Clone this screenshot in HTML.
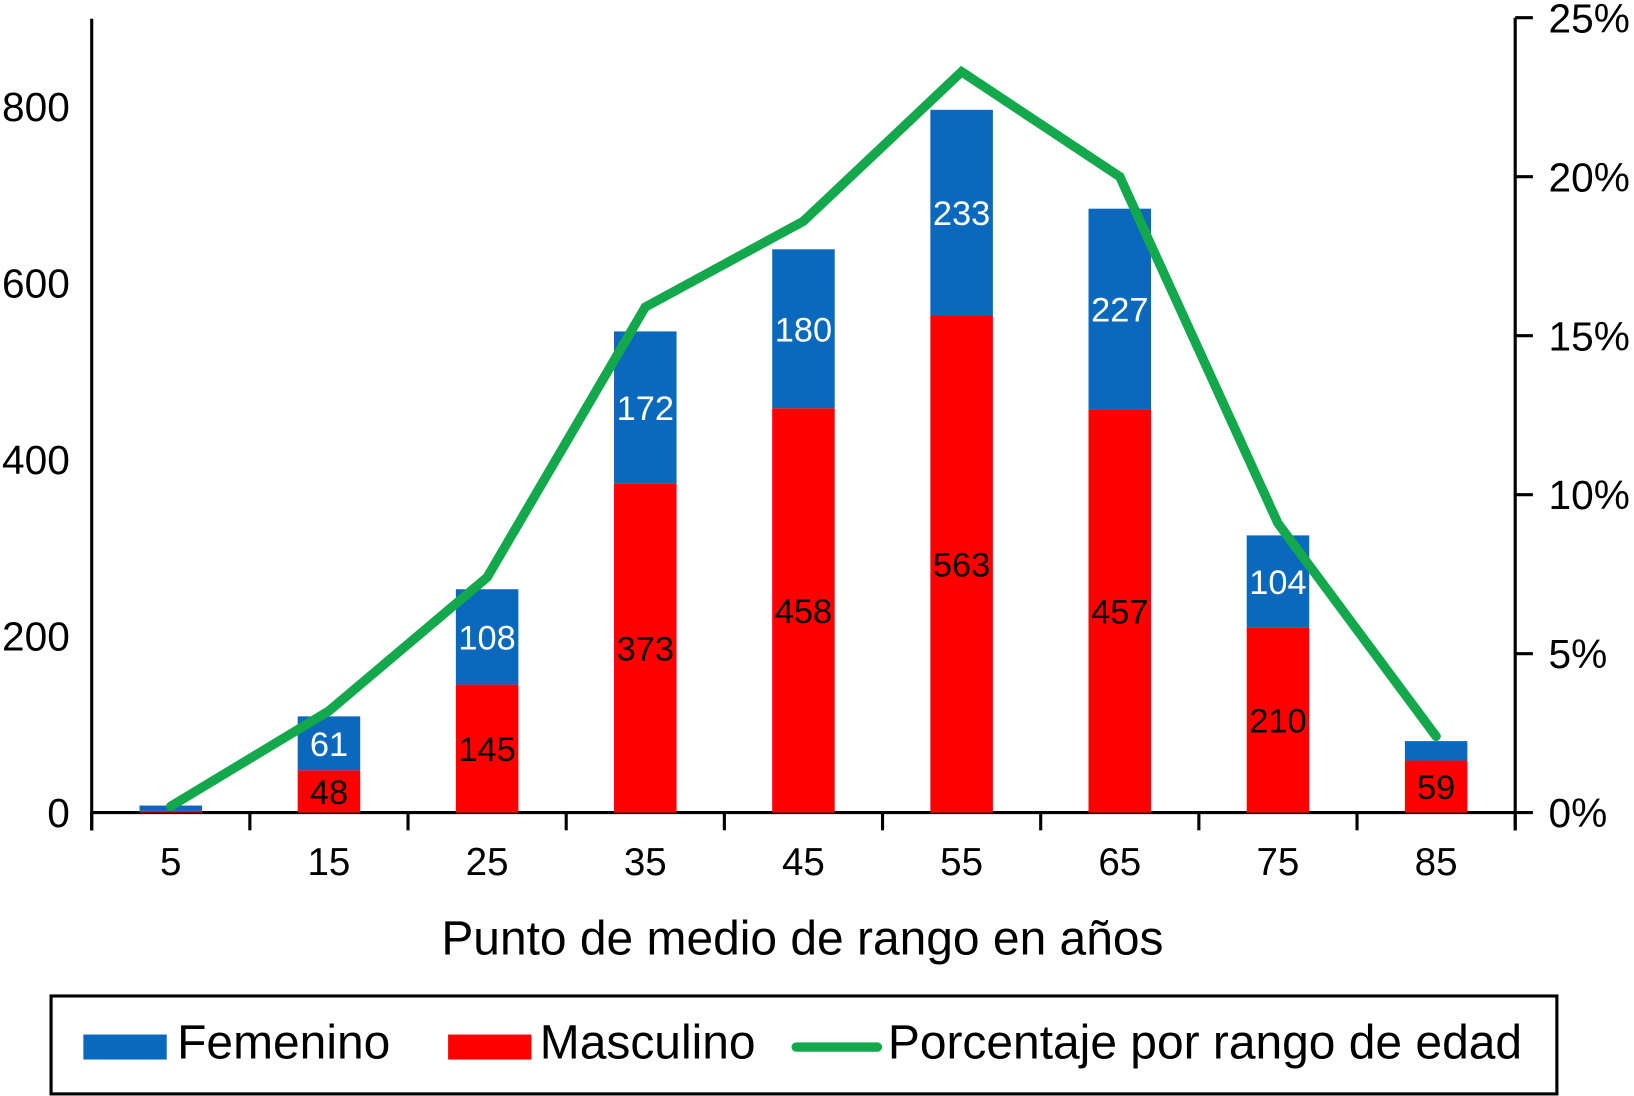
<!DOCTYPE html>
<html><head><meta charset="utf-8"><style>
html,body{margin:0;padding:0;background:#fff;}
svg{display:block;font-family:"Liberation Sans",Arial,sans-serif;}
</style></head><body>
<svg id="chart" width="1634" height="1096" viewBox="0 0 1568 1052" preserveAspectRatio="none" xmlns="http://www.w3.org/2000/svg">
<g id="axes"></g>
<g id="bars"></g>
<g id="line"></g>
<text x="770" y="916" font-size="46" text-anchor="middle">Punto de medio de rango en años</text>
<g>
<rect x="49" y="956" width="1445" height="94" fill="none" stroke="#000" stroke-width="3"/>
<rect x="80" y="993" width="80" height="24" fill="#0a69bd"/>
<text x="170" y="1016" font-size="46">Femenino</text>
<rect x="430" y="993" width="80" height="24" fill="#ff0000"/>
<text x="518" y="1016" font-size="46">Masculino</text>
<line x1="764" y1="1005" x2="842" y2="1005" stroke="#13a84b" stroke-width="9" stroke-linecap="round"/>
<text x="852" y="1016" font-size="46">Porcentaje por rango de edad</text>
</g>
</svg>
<script>
const categories = ["5","15","25","35","45","55","65","75","85"];
const masculino = [2,48,145,373,458,563,457,210,59];
const femenino = [6,61,108,172,180,233,227,104,22];
const porcentaje = [0.2,3.2,7.4,15.9,18.6,23.3,20.0,9.1,2.4];
const leftTicks = [0,200,400,600,800];
const rightTicks = [0,5,10,15,20,25];
const showMale = [false,true,true,true,true,true,true,true,true];
const showFemale = [false,true,true,true,true,true,true,true,false];

const NS="http://www.w3.org/2000/svg";
const x0=88, x1=1454, y0=780, step=(x1-x0)/categories.length;
const yL=v=>y0-v*(y0-102)/800;
const yR=v=>y0-v*(y0-17)/25;
const xC=i=>x0+step*(i+0.5);
function mk(tag,attrs,parent,txt){const e=document.createElementNS(NS,tag);for(const k in attrs)e.setAttribute(k,attrs[k]);if(txt!==undefined)e.textContent=txt;parent.appendChild(e);return e;}
const axes=document.getElementById('axes'),bars=document.getElementById('bars'),lg=document.getElementById('line');
let e;
e=mk('line',{x1:x0,y1:18,x2:x0,y2:797,stroke:'#000','stroke-width':3},axes);


e=mk('line',{x1:x1,y1:17,x2:x1,y2:797,stroke:'#000','stroke-width':3},axes);


e=mk('line',{x1:x0,y1:y0,x2:x1,y2:y0,stroke:'#000','stroke-width':3},axes);


leftTicks.forEach(v=>{
  e=mk('text',{x:67,y:yL(v)+14,'font-size':39,'text-anchor':'end'},axes,String(v));
  
  
});
rightTicks.forEach(v=>{
  e=mk('line',{x1:x1,y1:yR(v),x2:x1+17,y2:yR(v),stroke:'#000','stroke-width':3},axes);
  
  
  e=mk('text',{x:1486,y:yR(v)+14,'font-size':39},axes,v+'%');
  
  
});
for(let i=0;i<=categories.length;i++){
  e=mk('line',{x1:x0+step*i,y1:y0,x2:x0+step*i,y2:797,stroke:'#000','stroke-width':3},axes);
  
  
}
categories.forEach((c,i)=>{
  e=mk('text',{x:xC(i),y:840,'font-size':37,'text-anchor':'middle'},axes,c);
  
  
  const bw=60,bx=xC(i)-bw/2;
  const ym=yL(masculino[i]), yt=yL(masculino[i]+femenino[i]);
  e=mk('rect',{x:bx,y:ym,width:bw,height:y0-ym,fill:'#ff0000'},bars);
  
  
  e=mk('rect',{x:bx,y:yt,width:bw,height:ym-yt,fill:'#0a69bd'},bars);
  
  
  if(showMale[i]){
    e=mk('text',{x:xC(i),y:(ym+y0)/2+12,'font-size':33,'text-anchor':'middle',fill:'#000'},bars,String(masculino[i]));
    
    
  }
  if(showFemale[i]){
    e=mk('text',{x:xC(i),y:(yt+ym)/2+12,'font-size':33,'text-anchor':'middle',fill:'#fff'},bars,String(femenino[i]));
    
    
  }
});
const pts=porcentaje.map((p,i)=>xC(i)+','+yR(p)).join(' ');
e=mk('polyline',{points:pts,fill:'none',stroke:'#13a84b','stroke-width':9,'stroke-linejoin':'miter','stroke-linecap':'round'},lg);


</script>
</body></html>
